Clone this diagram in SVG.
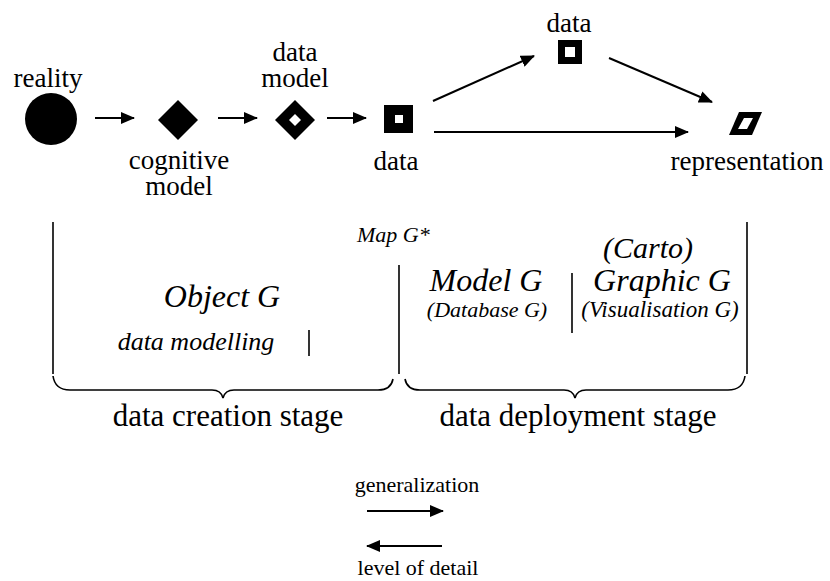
<svg xmlns="http://www.w3.org/2000/svg" width="830" height="581" viewBox="0 0 830 581">
  <style>
    text { font-family: "Times New Roman", "Liberation Serif", serif; fill: #000; }
    .lbl { font-size: 27px; text-anchor: middle; }
    .it { font-style: italic; text-anchor: middle; }
    .stage { font-size: 31px; text-anchor: middle; }
    .leg { font-size: 22px; text-anchor: middle; }
    .conn { stroke: #000; stroke-width: 2; fill: none; marker-end: url(#arrow); }
    .rule { stroke: #000; stroke-width: 1.6; fill: none; }
  </style>
  <defs>
    <marker id="arrow" markerUnits="userSpaceOnUse" markerWidth="14" markerHeight="12" refX="13" refY="6" orient="auto">
      <path d="M0,0 L14,6 L0,12 Z" fill="#000"/>
    </marker>
  </defs>

  <rect width="830" height="581" fill="#fff"/>

  <!-- process chain nodes -->
  <g id="reality">
    <circle cx="51" cy="119" r="26" fill="#000"/>
    <text class="lbl" x="48" y="87">reality</text>
  </g>
  <g id="cognitive-model">
    <polygon points="178,100 198,120 178,140 158,120" fill="#000"/>
    <text class="lbl" x="179" y="169">cognitive</text>
    <text class="lbl" x="179" y="195">model</text>
  </g>
  <g id="data-model">
    <polygon points="295,100 315,120 295,140 275,120" fill="#000"/>
    <polygon points="295,114 301,120 295,126 289,120" fill="#fff"/>
    <text class="lbl" x="295" y="61">data</text>
    <text class="lbl" x="295" y="87">model</text>
  </g>
  <g id="data">
    <rect x="384" y="105" width="29" height="28" fill="#000"/>
    <rect x="395" y="115" width="8" height="8" fill="#fff"/>
    <text class="lbl" x="396" y="170">data</text>
  </g>
  <g id="data-top">
    <rect x="561.5" y="43.5" width="17" height="17" fill="#fff" stroke="#000" stroke-width="7"/>
    <text class="lbl" x="569" y="32">data</text>
  </g>
  <g id="representation">
    <polygon points="739,112 762,112 752,135 729,135" fill="#000"/>
    <polygon points="744,118 753,118 747,129 738,129" fill="#fff"/>
    <text class="lbl" x="747" y="170">representation</text>
  </g>

  <!-- connectors -->
  <g id="connectors">
    <line class="conn" x1="95" y1="118" x2="134" y2="118"/>
    <line class="conn" x1="218" y1="118" x2="257" y2="118"/>
    <line class="conn" x1="327" y1="118" x2="366" y2="118"/>
    <line class="conn" x1="433" y1="101" x2="534" y2="56"/>
    <line class="conn" x1="609" y1="58" x2="712" y2="102"/>
    <line class="conn" x1="434" y1="132" x2="688" y2="132"/>
  </g>

  <!-- stage partition -->
  <g id="stages">
    <line class="rule" x1="53" y1="222" x2="53" y2="374"/>
    <line class="rule" x1="399" y1="265" x2="399" y2="374"/>
    <line class="rule" x1="747" y1="222" x2="747" y2="374"/>
    <line class="rule" x1="572" y1="273" x2="572" y2="333"/>
    <line class="rule" x1="309" y1="330" x2="309" y2="356"/>
    <path class="rule" d="M53,376 Q55,390 70,390 L212,390 Q221,390 223,398 Q225,390 234,390 L378,390 Q391,390 393,379"/>
    <path class="rule" d="M405,379 Q407,390 420,390 L564,390 Q573,390 575,398 Q577,390 586,390 L728,390 Q743,390 745,376"/>

    <text class="it" x="357" y="242" style="font-size:22px;text-anchor:start">Map G*</text>
    <text class="it" x="222" y="307" font-size="32">Object G</text>
    <text class="it" x="196" y="350" font-size="26">data modelling</text>
    <text class="it" x="486" y="291" font-size="32">Model G</text>
    <text class="it" x="487" y="317" font-size="22">(Database G)</text>
    <text class="it" x="648" y="258" font-size="30">(Carto)</text>
    <text class="it" x="662" y="291" font-size="32">Graphic G</text>
    <text class="it" x="660" y="317" font-size="23">(Visualisation G)</text>

    <text class="stage" x="228" y="426">data creation stage</text>
    <text class="stage" x="578" y="426">data deployment stage</text>
  </g>

  <!-- legend -->
  <g id="legend">
    <text class="leg" x="417" y="492">generalization</text>
    <line class="conn" x1="367" y1="511" x2="443" y2="511"/>
    <line class="conn" x1="442" y1="546" x2="367" y2="546"/>
    <text class="leg" x="418" y="575" font-size="23">level of detail</text>
  </g>
</svg>
